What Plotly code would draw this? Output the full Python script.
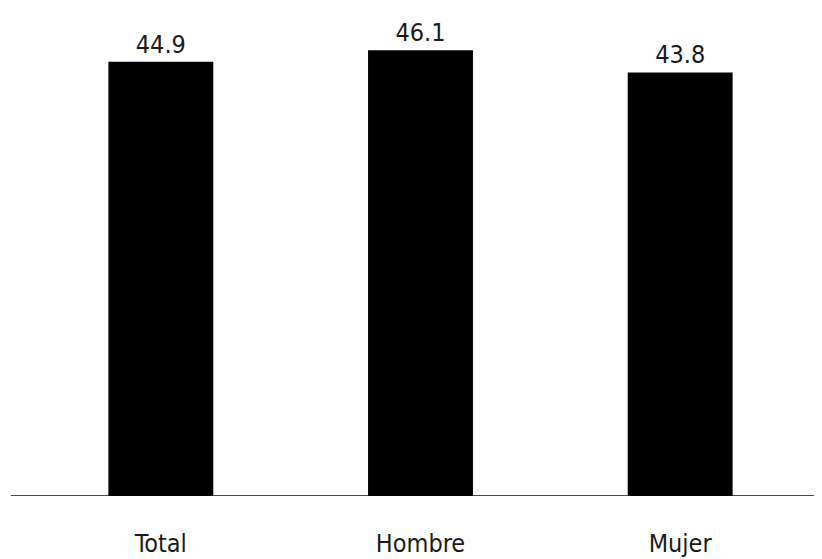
import plotly.graph_objects as go

categories = ["Total", "Hombre", "Mujer"]
values = [44.9, 46.1, 43.8]
value_labels = ["44.9", "46.1", "43.8"]

FONT = "DejaVu Sans Condensed, Liberation Sans Narrow, Arial Narrow, sans-serif"

# The page body keeps an 8px default margin, so the figure is sized to fit the window.
fig = go.Figure(
    go.Bar(
        x=categories,
        y=values,
        text=value_labels,
        texttemplate="%{text}",
        textposition="outside",
        textfont=dict(family=FONT, size=25, color="#1a1a1a"),
        marker=dict(color="#000000", line=dict(width=0)),
        width=0.404,
        cliponaxis=False,
    )
)

fig.update_layout(
    width=814,
    height=551,
    margin=dict(l=22.5, r=11.5, t=0, b=63, autoexpand=False),
    paper_bgcolor="white",
    plot_bgcolor="white",
    showlegend=False,
    xaxis=dict(
        range=[-0.5, 2.5],
        automargin=False,
        showgrid=False,
        zeroline=False,
        showline=False,
        ticks="",
        tickfont=dict(family=FONT, size=25, color="#1a1a1a"),
        ticklabelstandoff=30,
    ),
    yaxis=dict(
        range=[0, 50.46],
        automargin=False,
        visible=False,
        showgrid=False,
        zeroline=False,
    ),
    shapes=[
        dict(
            type="line",
            xref="paper",
            yref="y",
            x0=-0.026,
            x1=1.02,
            y0=0,
            y1=0,
            line=dict(color="#111111", width=1.5),
            layer="below",
        )
    ],
)

fig.write_html("out.html")
